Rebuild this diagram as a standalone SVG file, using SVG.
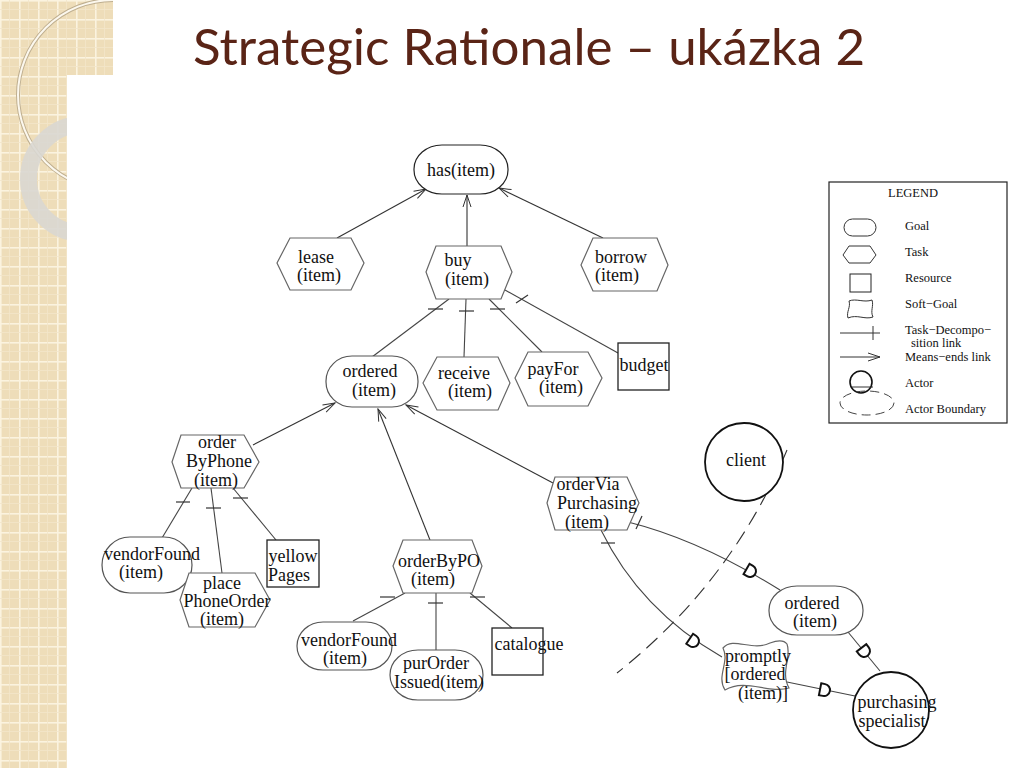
<svg xmlns="http://www.w3.org/2000/svg" width="1024" height="768" viewBox="0 0 1024 768">
<defs>
<pattern id="tile" x="0" y="0" width="19" height="19" patternUnits="userSpaceOnUse">
<rect width="19" height="19" fill="#EEDDB9"/>
<rect x="0" y="0" width="19" height="1.6" fill="#FBF3DF"/>
<rect x="0" y="0" width="1.6" height="19" fill="#FBF3DF"/>
<rect x="9" y="0" width="0.8" height="19" fill="#F3E6CA"/>
<rect x="0" y="9" width="19" height="0.8" fill="#F3E6CA"/>
</pattern>
<clipPath id="deco"><path d="M0,0 H113 V75 H67 V768 H0 Z"/></clipPath>
<marker id="arr" markerWidth="14" markerHeight="10" refX="13" refY="5" orient="auto" markerUnits="userSpaceOnUse">
<path d="M1,1 L13,5 L1,9" fill="none" stroke="#333" stroke-width="1"/>
</marker>
<path id="dmark" d="M-4,-6 L0,-6 A6,6 0 0 1 0,6 L-4,6 Z" fill="#fff" stroke="#111" stroke-width="2"/>
</defs>
<style>
.t{font-family:"Liberation Serif","Times New Roman",serif;font-size:18px;fill:#111;text-anchor:middle}
.lg{font-family:"Liberation Serif","Times New Roman",serif;font-size:12.5px;fill:#111}
.task{fill:#fff;stroke:#666;stroke-width:1.2}
.goal{fill:#fff;stroke:#555;stroke-width:1.2}
.res{fill:#fff;stroke:#222;stroke-width:1.3}
.actor{fill:#fff;stroke:#111;stroke-width:1.8}
.ln{fill:none;stroke:#444;stroke-width:1.1}
.tick{stroke:#333;stroke-width:1.2}
.me{fill:none;stroke:#333;stroke-width:1.1;marker-end:url(#arr)}
</style>
<rect width="1024" height="768" fill="#fff"/>
<g id="decoration" clip-path="url(#deco)">
<rect width="113" height="768" fill="url(#tile)"/>
<circle cx="113" cy="95" r="95" fill="none" stroke="#BFAF90" stroke-width="4"/>
<circle cx="113" cy="95" r="95" fill="none" stroke="#FCF8EE" stroke-width="2"/>
<circle cx="83" cy="179" r="54.5" fill="none" stroke="#D9D7D1" stroke-width="17" opacity="0.9"/>
</g>
<text x="529" y="65" font-family="Lato,'Open Sans',sans-serif" font-size="50" fill="#5A2416" text-anchor="middle" textLength="672" lengthAdjust="spacingAndGlyphs">Strategic Rationale – ukázka 2</text>

<g id="connectors">
<line class="me" x1="337" y1="238" x2="426" y2="189"/>
<line class="me" x1="467" y1="246" x2="467" y2="195"/>
<line class="me" x1="603" y1="238" x2="499" y2="188"/>
<line class="ln" x1="449" y1="299" x2="372" y2="357"/>
<line class="ln" x1="466" y1="299" x2="464" y2="357"/>
<line class="ln" x1="489" y1="299" x2="542" y2="352"/>
<line class="ln" x1="505" y1="290" x2="618" y2="353"/>
<line class="tick" x1="428" y1="309" x2="443" y2="309"/>
<line class="tick" x1="459" y1="311" x2="474" y2="311"/>
<line class="tick" x1="490" y1="309" x2="505" y2="309"/>
<line class="tick" x1="516" y1="303" x2="528" y2="295"/>
<line class="me" x1="253" y1="445" x2="335" y2="403"/>
<line class="me" x1="430" y1="540" x2="378" y2="409"/>
<line class="me" x1="553" y1="483" x2="406" y2="405"/>
<line class="ln" x1="192" y1="488" x2="162" y2="538"/>
<line class="ln" x1="211" y1="488" x2="222" y2="573"/>
<line class="ln" x1="233" y1="488" x2="276" y2="540"/>
<line class="tick" x1="176" y1="502" x2="190" y2="502"/>
<line class="tick" x1="206" y1="508" x2="221" y2="508"/>
<line class="tick" x1="233" y1="498" x2="248" y2="498"/>
<line class="ln" x1="405" y1="593" x2="353" y2="621"/>
<line class="ln" x1="436" y1="593" x2="436" y2="652"/>
<line class="ln" x1="470" y1="593" x2="512" y2="628"/>
<line class="tick" x1="380" y1="597" x2="395" y2="597"/>
<line class="tick" x1="428" y1="603" x2="443" y2="603"/>
<line class="tick" x1="470" y1="597" x2="485" y2="597"/>
<path class="ln" d="M628,522 Q700,540 780,590"/>
<path class="ln" d="M848,632 L880,671"/>
<path class="ln" d="M601,530 Q640,610 722,657"/>
<path class="ln" d="M787,682 L855,696"/>
<line class="tick" x1="636" y1="529" x2="642" y2="516"/>
<line class="tick" x1="601" y1="543" x2="615" y2="543"/>
<path d="M787,450 Q731,583 617,673" fill="none" stroke="#333" stroke-width="1.1" stroke-dasharray="15,8"/>
<use href="#dmark" transform="translate(750,571) rotate(30)"/>
<use href="#dmark" transform="translate(864,651) rotate(52)"/>
<use href="#dmark" transform="translate(693,641) rotate(34)"/>
<use href="#dmark" transform="translate(824,690) rotate(11)"/>
</g>

<g id="has"><rect class="goal" x="414" y="145" width="94" height="49" rx="28" ry="24" style="stroke:#222"/><text class="t" x="461" y="176">has(item)</text></g>
<g id="lease"><polygon class="task" points="277,263 290,238 351,238 364,263 351,290 290,290"/><text class="t" x="316" y="263">lease</text><text class="t" x="319" y="281">(item)</text></g>
<g id="buy"><polygon class="task" points="426,272 436,246 501,246 512,272 501,299 436,299"/><text class="t" x="458" y="266">buy</text><text class="t" x="467" y="285">(item)</text></g>
<g id="borrow"><polygon class="task" points="581,265 593,238 657,238 668,265 657,291 593,291"/><text class="t" x="621" y="263">borrow</text><text class="t" x="617" y="281">(item)</text></g>
<g id="ordered"><rect class="goal" x="326" y="356" width="92" height="51" rx="26" ry="25"/><text class="t" x="370" y="377">ordered</text><text class="t" x="374" y="396">(item)</text></g>
<g id="receive"><polygon class="task" points="423,383 437,357 498,357 510,383 498,410 437,410"/><text class="t" x="464" y="379">receive</text><text class="t" x="470" y="397">(item)</text></g>
<g id="payFor"><polygon class="task" points="515,378 528,352 588,352 602,378 588,406 528,406"/><text class="t" x="553" y="375">payFor</text><text class="t" x="561" y="393">(item)</text></g>
<g id="budget"><rect class="res" x="618" y="343" width="51" height="47"/><text class="t" x="644" y="371">budget</text></g>
<g id="orderByPhone"><polygon class="task" points="172,462 181,435 244,435 259,462 244,488 181,488"/><text class="t" x="217" y="447.5">order</text><text class="t" x="219" y="466.5">ByPhone</text><text class="t" x="216" y="485.5">(item)</text></g>
<g id="vendorFound1"><rect class="goal" x="102" y="537" width="90" height="56" rx="28" ry="28"/><text class="t" x="152" y="560">vendorFound</text><text class="t" x="141" y="578">(item)</text></g>
<g id="placePhoneOrder"><polygon class="task" points="180,600 189,573 255,573 270,600 255,627 189,627"/><text class="t" x="222" y="589">place</text><text class="t" x="227" y="607">PhoneOrder</text><text class="t" x="222" y="625">(item)</text></g>
<g id="yellowPages"><rect class="res" x="267" y="540" width="52" height="47"/><text class="t" x="293" y="562">yellow</text><text class="t" x="289" y="581">Pages</text></g>
<g id="orderByPO"><polygon class="task" points="393,566 403,540 472,540 482,566 472,593 403,593"/><text class="t" x="439" y="567">orderByPO</text><text class="t" x="433" y="585">(item)</text></g>
<g id="vendorFound2"><rect class="goal" x="297" y="622" width="95" height="48" rx="26" ry="24"/><text class="t" x="349" y="646">vendorFound</text><text class="t" x="345" y="664">(item)</text></g>
<g id="purOrderIssued"><rect class="goal" x="390" y="650" width="93" height="50" rx="28" ry="25"/><text class="t" x="436" y="669">purOrder</text><text class="t" x="439" y="688">Issued(item)</text></g>
<g id="catalogue"><rect class="res" x="492" y="628" width="51" height="47"/><text class="t" x="529" y="650">catalogue</text></g>
<g id="orderViaPurchasing"><polygon class="task" points="547,503 555,477 627,477 639,503 627,530 555,530"/><text class="t" x="588" y="490">orderVia</text><text class="t" x="597" y="509">Purchasing</text><text class="t" x="587" y="528">(item)</text></g>
<g id="client"><circle class="actor" cx="744" cy="462" r="39"/><text class="t" x="746" y="466">client</text></g>
<g id="ordered2"><rect class="goal" x="769" y="586" width="94" height="49" rx="28" ry="24"/><text class="t" x="812" y="609">ordered</text><text class="t" x="815" y="627">(item)</text></g>
<g id="promptly"><path d="M723,648 C733,636 752,652 770,643 C778,640 784,640 787,644 C792,657 780,672 789,688 C768,694 746,678 725,690 C716,676 730,662 723,648 Z" fill="#fff" stroke="#666" stroke-width="1.2"/><text class="t" x="758" y="662">promptly</text><text class="t" x="755" y="680">[ordered</text><text class="t" x="763" y="699">(item)]</text></g>
<g id="purchasingSpecialist"><circle class="actor" cx="891" cy="710" r="38"/><text class="t" x="897" y="708">purchasing</text><text class="t" x="892" y="727">specialist</text></g>

<g id="legend">
<rect x="829" y="182" width="178" height="241" fill="#fff" stroke="#222" stroke-width="1.2"/>
<text class="lg" x="913" y="197" text-anchor="middle">LEGEND</text>
<rect x="844" y="219" width="32" height="17" rx="8.5" fill="#fff" stroke="#333"/>
<text class="lg" x="905" y="230">Goal</text>
<polygon points="843,255 849,246 870,246 876,255 870,263 849,263" fill="#fff" stroke="#333"/>
<text class="lg" x="905" y="256">Task</text>
<rect x="850" y="274" width="21" height="18" fill="#fff" stroke="#222"/>
<text class="lg" x="905" y="282">Resource</text>
<path d="M849,301 C856,298 864,303 872,300 C874,306 870,311 873,317 C865,320 857,314 848,318 C846,312 851,307 849,301 Z" fill="#fff" stroke="#333"/>
<text class="lg" x="905" y="308">Soft−Goal</text>
<line x1="840" y1="333" x2="880" y2="333" stroke="#333"/>
<line x1="873" y1="326" x2="873" y2="340" stroke="#333"/>
<text class="lg" x="905" y="334">Task−Decompo−</text>
<text class="lg" x="911" y="347">sition link</text>
<line x1="840" y1="357" x2="880" y2="357" stroke="#333" marker-end="url(#arr)"/>
<text class="lg" x="905" y="361">Means−ends link</text>
<circle cx="861" cy="382" r="11" fill="none" stroke="#111" stroke-width="1.6"/>
<line x1="852" y1="387" x2="873" y2="387" stroke="#333"/>
<ellipse cx="867" cy="403" rx="27" ry="12" fill="none" stroke="#444" stroke-dasharray="9,5"/>
<text class="lg" x="905" y="387">Actor</text>
<text class="lg" x="905" y="413">Actor Boundary</text>
</g>
</svg>
